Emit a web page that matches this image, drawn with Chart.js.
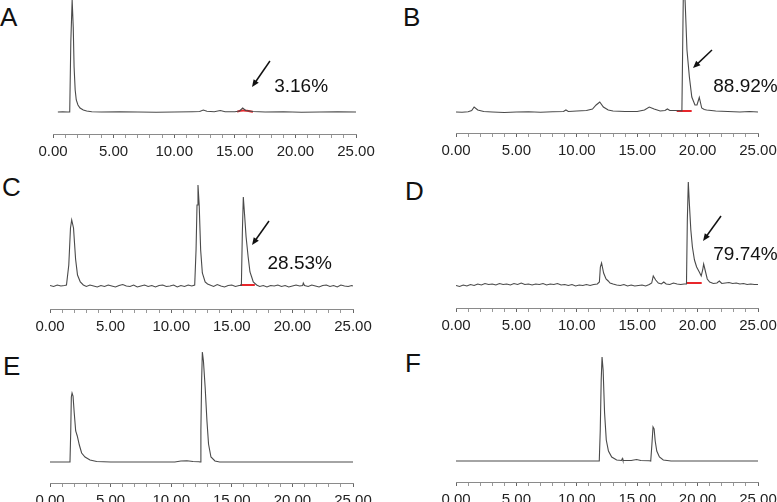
<!DOCTYPE html>
<html>
<head>
<meta charset="utf-8">
<script src="https://cdn.jsdelivr.net/npm/chart.js@4"></script>
<style>
    html, body { margin: 0; padding: 0; background: #fff; }
    body { width: 777px; height: 502px; position: relative; overflow: hidden; font-family: Arial, "Liberation Sans", sans-serif; }
    canvas { position: absolute; }
    .tag { position: absolute; font-size: 26px; color: #111; line-height: 1; }
</style>
</head>
<body>
<div class="tag" style="left:0px;top:4px">A</div>
<div class="tag" style="left:403px;top:4px">B</div>
<div class="tag" style="left:2px;top:174px">C</div>
<div class="tag" style="left:405px;top:178px">D</div>
<div class="tag" style="left:3px;top:353px">E</div>
<div class="tag" style="left:405px;top:350px">F</div>

<script>
// retention time (min), signal above baseline
const traceA = [[0.4,0],[0.8,0.3],[1.2,0],[1.38,0],[1.47,70],[1.58,112],[1.67,85],[1.74,45],[1.83,22],[1.92,12],[2.06,7],[2.23,4],[2.5,2],[2.78,1],[3.2,0.3],[4,0],[5.5,0.3],[7,0],[8.5,-0.3],[10,0],[11.5,0.3],[12.1,0.5],[12.4,2],[12.7,0.8],[13.3,0.3],[13.8,1.5],[14.2,0.3],[15.0,0.3],[15.4,1],[15.65,4],[15.9,1.5],[16.5,0.5],[17.5,0],[19,0.3],[20.5,-0.3],[22,0],[23.5,0.3],[25,0]];
const traceB = [[0,0],[0.5,-0.3],[1.0,0.3],[1.3,1.5],[1.5,5],[1.8,2],[2.3,0.5],[3,0],[4,-0.5],[5,0],[6,0.3],[7,-0.3],[8,0.3],[8.9,0.5],[9.1,2],[9.3,0.5],[10,1],[10.8,1.5],[11.3,3],[11.6,7],[11.9,10],[12.2,5],[12.6,2],[13,1],[14,0.5],[15,0.5],[15.6,2],[16.0,5],[16.4,3],[16.9,1],[17.3,1.5],[17.5,3],[17.7,1.5],[18.2,1.5],[18.7,1],[18.76,60],[18.84,140],[18.97,110],[19.12,62],[19.32,35],[19.52,15],[19.78,7],[19.95,7],[20.14,14.5],[20.34,4],[20.55,2.5],[20.75,2],[21.5,1],[22.5,0.5],[23.5,0],[24.3,0.5],[25,0]];
const traceC = [[0,0.5],[0.3,-0.5],[0.6,1],[0.9,0],[1.2,0.5],[1.36,1],[1.55,21],[1.69,58],[1.79,66],[1.94,58],[2.11,27],[2.27,11],[2.5,4],[2.75,1],[3.0,-0.5],[3.3,1],[3.6,0],[3.9,-1],[4.2,0.5],[4.5,-0.5],[4.8,1],[5.1,0],[5.4,-1],[5.7,0.5],[6.0,1.5],[6.3,0],[6.6,-0.5],[6.9,1],[7.2,-1],[7.5,0],[7.8,1],[8.1,-0.5],[8.4,0.5],[8.7,-1],[9.0,0.5],[9.3,1],[9.6,-0.5],[9.9,0],[10.2,1],[10.5,-1],[10.8,0.5],[11.1,-0.5],[11.4,1],[11.7,0],[11.94,1],[12.05,36],[12.13,81],[12.21,101],[12.31,81],[12.43,36],[12.57,13],[12.8,4],[13.0,2],[13.2,1],[13.5,-0.5],[13.8,1.5],[14.1,0],[14.4,-1],[14.7,0.5],[15.0,1],[15.3,-0.5],[15.6,0.5],[15.79,0.5],[15.87,53],[15.95,89],[16.05,72],[16.18,49],[16.35,29],[16.5,14],[16.64,9],[16.77,4],[17.05,1],[17.3,-0.5],[17.6,0.5],[17.9,-1],[18.2,0.5],[18.5,0],[18.8,1],[19.1,-0.5],[19.4,0.5],[19.7,-1],[20.0,0],[20.3,1],[20.6,0],[20.85,0.5],[20.9,3],[21.0,0.5],[21.3,-0.5],[21.6,1],[21.9,0],[22.2,-1],[22.5,0.5],[22.8,1],[23.1,-0.5],[23.4,0.5],[23.7,-1],[24.0,1],[24.3,0],[24.6,-0.5],[24.9,0.5],[25,0]];
const traceD = [[0,-0.5],[0.3,-1.5],[0.6,0],[0.9,-1],[1.2,0.5],[1.5,-0.5],[1.8,1],[2.1,0],[2.4,1.5],[2.7,0.5],[3.0,1],[3.3,0],[3.6,1.5],[3.9,0.5],[4.2,1],[4.5,0],[4.8,1.5],[5.1,0.5],[5.4,2],[5.7,0.5],[6.0,1],[6.3,0],[6.6,1],[6.9,0.5],[7.2,1.5],[7.5,0],[7.8,1],[8.1,0.5],[8.4,1.5],[8.7,0],[9.0,0.5],[9.3,-0.5],[9.6,0.5],[9.9,-1],[10.2,0],[10.5,-0.5],[10.8,0.5],[11.1,-0.5],[11.4,0.5],[11.7,1],[11.87,3],[11.95,18],[12.05,22],[12.22,12],[12.42,6],[12.6,4],[12.75,2],[13.0,1],[13.3,0],[13.6,-0.5],[13.9,0.5],[14.2,-1],[14.5,0],[14.8,-1],[15.1,-0.5],[15.4,0],[15.7,-1],[16.0,0.5],[16.2,2],[16.33,9],[16.53,5],[16.75,2],[17.0,1],[17.2,3],[17.4,1],[17.7,0.5],[18.0,2],[18.3,1],[18.6,0.5],[18.9,1],[19.08,1],[19.15,65],[19.23,103],[19.32,81],[19.44,55],[19.57,38],[19.74,25],[19.92,18],[20.14,13],[20.3,9],[20.42,15],[20.5,21],[20.6,16],[20.8,6],[21.0,3],[21.3,1.5],[21.6,2],[21.8,4],[22.0,1.5],[22.3,2],[22.6,2.5],[22.9,1.5],[23.2,2],[23.5,1],[23.8,1.5],[24.1,0.5],[24.4,1],[24.7,0.5],[25,0.5]];
const traceE = [[0,0],[1.0,0],[1.6,0],[1.65,0.5],[1.71,30],[1.76,65],[1.82,69],[1.9,66],[2.0,49],[2.12,31],[2.25,26],[2.42,17],[2.61,9],[2.89,5],[3.3,2],[3.85,0.5],[5,0],[8,0],[10.3,0],[10.8,1],[11.3,1.2],[11.8,0.5],[12.3,0.3],[12.38,0],[12.45,32],[12.51,81],[12.57,110],[12.66,101],[12.8,75],[12.95,41],[13.08,18],[13.28,5],[13.61,1],[14,0],[18,0],[25,0]];
const traceF = [[0,0],[5,0],[10,0],[11.86,0],[11.94,30],[12.02,81],[12.09,104],[12.18,91],[12.3,48],[12.44,21],[12.62,10],[12.89,4],[13.3,1],[13.7,0.5],[13.77,2.5],[13.82,0.5],[14.5,0.5],[14.95,1.5],[15.3,0.5],[16.0,0.3],[16.12,0],[16.22,17],[16.31,34],[16.4,32],[16.49,20],[16.62,10],[16.84,4],[17.16,1],[17.8,0],[25,0]];

// integration baselines (red)
const integA = [[15.2,0.3],[15.45,1.2],[15.7,1.6],[16.0,1.2],[16.5,0.3]];
const integB = [[18.27,1],[19.51,1]];
const integC = [[15.7,1],[16.9,1]];
const integD = [[19.04,2],[20.34,2]];

const purity = ['3.16%', '88.92%', '28.53%', '79.74%'];
const tickLabels = ['0.00', '5.00', '10.00', '15.00', '20.00', '25.00'];

// panel placement (pixels) and arrow / label placement (data units)
const panels = [
    { left: 0,   top: 0,   width: 390, axisLeft: 53,  axisRight: 356, axisY: 134, baseY: 112, trace: traceA, integ: integA,
      note: { text: purity[0], from: [17.9, 51], to: [16.42, 25], at: [18.25, 25] } },
    { left: 390, top: 0,   width: 400, axisLeft: 456, axisRight: 758, axisY: 133, baseY: 112, trace: traceB, integ: integB,
      note: { text: purity[1], from: [21.19, 62], to: [19.62, 44], at: [21.3, 25] } },
    { left: 0,   top: 165, width: 390, axisLeft: 50,  axisRight: 353, axisY: 309, baseY: 286, trace: traceC, integ: integC,
      note: { text: purity[2], from: [18.07, 65], to: [16.67, 41], at: [17.95, 22] } },
    { left: 390, top: 165, width: 400, axisLeft: 456, axisRight: 758, axisY: 308, baseY: 285, trace: traceD, integ: integD,
      note: { text: purity[3], from: [21.94, 69], to: [20.45, 44], at: [21.3, 30] } },
    { left: 0,   top: 330, width: 390, axisLeft: 50,  axisRight: 353, axisY: 483, baseY: 462, trace: traceE, integ: null, note: null },
    { left: 390, top: 330, width: 400, axisLeft: 456, axisRight: 758, axisY: 482, baseY: 461, trace: traceF, integ: null, note: null },
];

const AXIS_H = 28;

const peakNote = {
    id: 'peakNote',
    afterDatasetsDraw(chart, args, opts) {
        const note = opts.note;
        if (!note) return;
        const xs = chart.scales.x, ys = chart.scales.y;
        const ctx = chart.ctx;
        const x1 = xs.getPixelForValue(note.from[0]), y1 = ys.getPixelForValue(note.from[1]);
        const x2 = xs.getPixelForValue(note.to[0]), y2 = ys.getPixelForValue(note.to[1]);
        const ang = Math.atan2(y2 - y1, x2 - x1);
        const head = 8;
        ctx.save();
        ctx.strokeStyle = '#111';
        ctx.fillStyle = '#111';
        ctx.lineWidth = 1.5;
        ctx.beginPath();
        ctx.moveTo(x1, y1);
        ctx.lineTo(x2 - Math.cos(ang) * head * 0.8, y2 - Math.sin(ang) * head * 0.8);
        ctx.stroke();
        ctx.beginPath();
        ctx.moveTo(x2, y2);
        ctx.lineTo(x2 - head * Math.cos(ang - 0.4), y2 - head * Math.sin(ang - 0.4));
        ctx.lineTo(x2 - head * Math.cos(ang + 0.4), y2 - head * Math.sin(ang + 0.4));
        ctx.closePath();
        ctx.fill();
        ctx.font = '19px Arial, "Liberation Sans", sans-serif';
        ctx.textBaseline = 'middle';
        ctx.textAlign = 'left';
        ctx.fillText(note.text, xs.getPixelForValue(note.at[0]), ys.getPixelForValue(note.at[1]));
        ctx.restore();
    }
};

panels.forEach(function (p) {
    const canvas = document.createElement('canvas');
    const h = p.axisY - p.top + AXIS_H;
    canvas.width = p.width;
    canvas.height = h;
    canvas.style.left = p.left + 'px';
    canvas.style.top = p.top + 'px';
    document.body.appendChild(canvas);

    const datasets = [{
        data: p.trace,
        borderColor: '#4a4a4a',
        borderWidth: 1.1,
        pointRadius: 0,
        tension: 0,
    }];
    if (p.integ) {
        datasets.push({
            data: p.integ,
            borderColor: '#e8262b',
            borderWidth: 2,
            pointRadius: 0,
            tension: 0.3,
        });
    }

    new Chart(canvas, {
        type: 'line',
        data: { datasets: datasets },
        plugins: [peakNote],
        options: {
            responsive: false,
            animation: false,
            devicePixelRatio: 1,
            layout: {
                padding: { left: p.axisLeft - p.left, right: p.left + p.width - p.axisRight, top: 0, bottom: 0 },
            },
            plugins: {
                legend: { display: false },
                tooltip: { enabled: false },
                peakNote: { note: p.note },
            },
            scales: {
                x: {
                    type: 'linear',
                    min: 0,
                    max: 25,
                    afterFit: function (scale) { scale.height = AXIS_H; },
                    border: { display: true, color: '#8a8a8a', width: 1 },
                    grid: {
                        drawOnChartArea: false,
                        drawTicks: true,
                        tickLength: 4,
                        tickColor: (c) => (c.tick && c.tick.value % 5 === 0 ? '#666' : '#999'),
                    },
                    ticks: {
                        stepSize: 1,
                        autoSkip: false,
                        maxRotation: 0,
                        padding: 5,
                        color: '#222',
                        font: { family: 'Arial, "Liberation Sans", sans-serif', size: 15 },
                        callback: (v) => (v % 5 === 0 ? tickLabels[v / 5] : ''),
                    },
                },
                y: {
                    display: false,
                    min: -(p.axisY - p.baseY),
                    max: p.baseY - p.top,
                },
            },
        },
    });
});
</script>
</body>
</html>
